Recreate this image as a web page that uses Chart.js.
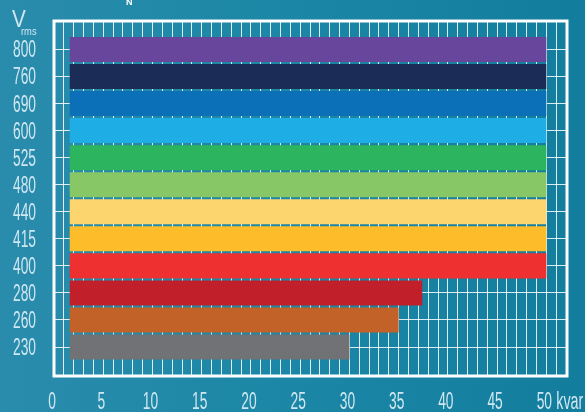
<!DOCTYPE html>
<html>
<head>
<meta charset="utf-8">
<script src="https://cdn.jsdelivr.net/npm/chart.js@4/dist/chart.umd.min.js"></script>
<style>
  html, body { margin: 0; padding: 0; }
  body {
    width: 585px; height: 412px; overflow: hidden;
    background: linear-gradient(90deg, #2a8cad 0%, #1c87a6 45%, #137d9e 100%);
  }
  #wrap { position: relative; width: 585px; height: 412px; }
</style>
</head>
<body>
<div id="wrap"><canvas id="chart" width="585" height="412"></canvas></div>
<script>
// voltages, top to bottom
const voltages = ['800', '760', '690', '600', '525', '480', '440', '415', '400', '280', '260', '230']
// bar start / end in kvar
const kvarFrom = [1.6, 1.6, 1.6, 1.6, 1.6, 1.6, 1.6, 1.6, 1.6, 1.6, 1.6, 1.6]
const kvarTo = [50, 50, 50, 50, 50, 50, 50, 50, 50, 37.4, 35, 30]
const barColors = ['#68469b', '#1b2c57', '#0c70b8', '#1fade6', '#2db45f', '#88c765',
                   '#fcd56f', '#fdbd2a', '#ee3031', '#c1202a', '#c26229', '#717275']
const xTickLabels = [0, 5, 10, 15, 20, 25, 30, 35, 40, 45, 50]

const textColor = '#cfe7f0'
const fontFamily = "'Liberation Sans', Arial, sans-serif"

const points = voltages.map((v, i) => ({ y: i, x: [kvarFrom[i], kvarTo[i]] }))

// draw text squeezed horizontally (the original uses a condensed face)
function narrowText(ctx, text, x, y, size, squeeze, align) {
    ctx.save()
    ctx.font = size + 'px ' + fontFamily
    ctx.textAlign = align
    ctx.translate(x, y)
    ctx.scale(squeeze, 1)
    ctx.fillText(text, 0, 0)
    ctx.restore()
}

// frame, tick labels and unit labels
const extras = {
    id: 'extras',
    afterDraw(chart) {
        const { ctx, chartArea: a, scales } = chart
        ctx.save()
        ctx.strokeStyle = '#ffffff'
        ctx.lineWidth = 3
        ctx.strokeRect(a.left, a.top, a.right - a.left, a.bottom - a.top)

        ctx.fillStyle = textColor
        ctx.textBaseline = 'alphabetic'
        voltages.forEach((v, i) => {
            narrowText(ctx, v, 36, scales.y.getPixelForValue(i) + 8, 23, 0.6, 'right')
        })
        xTickLabels.forEach(v => {
            narrowText(ctx, String(v), scales.x.getPixelForValue(v) - 2, 409, 23, 0.6, 'center')
        })
        const x50 = scales.x.getPixelForValue(50)
        narrowText(ctx, 'kvar', x50 + 10, 409, 23, 0.62, 'left')

        narrowText(ctx, 'V', 12, 27, 23, 0.9, 'left')
        narrowText(ctx, 'rms', 21, 35, 11, 0.85, 'left')

        ctx.fillStyle = '#ffffff'
        ctx.font = 'bold 9px ' + fontFamily
        ctx.fillText('N', 126, 5)
        ctx.restore()
    }
}

new Chart(document.getElementById('chart'), {
    type: 'bar',
    data: {
        datasets: [{
            data: points,
            backgroundColor: barColors,
            borderWidth: 0,
            barPercentage: 0.925,
            categoryPercentage: 1.0
        }]
    },
    options: {
        indexAxis: 'y',
        responsive: false,
        animation: false,
        devicePixelRatio: 1,
        layout: { padding: { top: 21, right: 18, left: 0, bottom: 0 } },
        plugins: { legend: { display: false }, tooltip: { enabled: false } },
        scales: {
            x: {
                type: 'linear',
                min: 0,
                max: 52.1,
                offset: false,
                grid: { color: 'rgba(255,255,255,0.85)', lineWidth: 1, drawTicks: false, offset: false },
                border: { display: false },
                afterFit: s => { s.height = 36 },
                ticks: { stepSize: 1, autoSkip: false, display: false }
            },
            y: {
                type: 'linear',
                reverse: true,
                min: -1.05,
                max: 12.07,
                offset: false,
                grid: { color: 'rgba(255,255,255,0.85)', lineWidth: 1, drawTicks: false, offset: false },
                border: { display: false },
                afterFit: s => { s.width = 54 },
                ticks: { stepSize: 1, autoSkip: false, display: false }
            }
        }
    },
    plugins: [extras]
})
</script>
</body>
</html>
